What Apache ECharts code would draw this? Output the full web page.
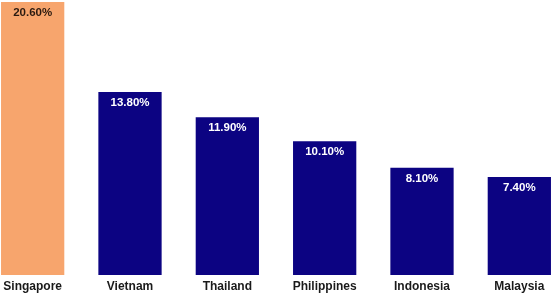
<!DOCTYPE html>
<html><head><meta charset="utf-8">
<script src="https://cdn.jsdelivr.net/npm/echarts@6/dist/echarts.min.js"></script>
<style>html,body{margin:0;padding:0;background:#fff;overflow:hidden;width:553px;height:294px}#c{width:584px;height:294px;margin-left:-16px}</style>
</head><body><div id="c"></div>
<script>
var categories = ["Singapore","Vietnam","Thailand","Philippines","Indonesia","Malaysia"];
var values = [20.6, 13.8, 11.9, 10.1, 8.1, 7.4];
var highlightIndex = 0;

var chart = echarts.init(document.getElementById('c'), null, {renderer:'canvas'});
chart.setOption({
  animation:false,
  grid:{left:0, right:0, top:2, bottom:19, containLabel:false},
  xAxis:{type:'category', data:categories,
    axisLine:{show:false}, axisTick:{show:false},
    axisLabel:{color:'#1a1a1a', fontFamily:'Liberation Sans', fontWeight:'bold', fontSize:12, margin:6}},
  yAxis:{type:'value', min:0, max:20.6, show:false, splitLine:{show:false}},
  series:[{type:'bar', barWidth:'65%',
    data: values.map(function(v,i){
      return {value:v,
        itemStyle:{color: i===highlightIndex ? '#F7A56D' : '#0C0382'},
        label:{color: i===highlightIndex ? '#2a1a10' : '#ffffff'}};
    }),
    label:{show:true, position:'insideTop', distance:5, fontFamily:'Liberation Sans', fontWeight:'bold', fontSize:11.5,
      formatter:function(p){return p.value.toFixed(2)+'%';}}
  }]
});
</script></body></html>
